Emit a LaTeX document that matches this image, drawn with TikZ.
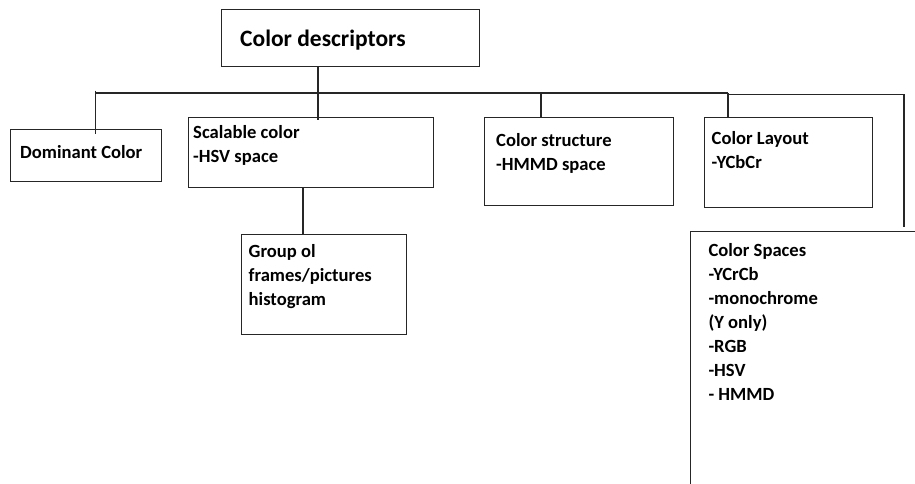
\documentclass[tikz,border=0pt]{standalone}
\usepackage{fontspec}
\setmainfont{Carlito}
\newcommand\boxlines[1]{\begin{tabular}[t]{@{}l@{}}#1\end{tabular}}
\tikzset{
  box/.style={draw=black!85, line width=1.3pt, inner sep=0pt, anchor=north west},
  link/.style={draw=black!85, line width=1.3pt},
  txt/.style={inner sep=0pt, anchor=base west, font=\bfseries\fontsize{18.6}{24}\selectfont},
  ttl/.style={inner sep=0pt, anchor=base west, font=\bfseries\fontsize{23.5}{28}\selectfont}
}
\begin{document}
\begin{tikzpicture}[x=1pt, y=-1pt]
\clip (0,0) rectangle (915,483);
\fill[white] (0,0) rectangle (915,483);

% boxes
\node[box, minimum width=258pt, minimum height=57pt] (title) at (221,8.5) {};
\node[box, minimum width=151pt, minimum height=52pt] (dom) at (9.5,128.5) {};
\node[box, minimum width=245pt, minimum height=70pt] (scal) at (188,116.5) {};
\node[box, minimum width=189pt, minimum height=88pt] (struct) at (484,116.5) {};
\node[box, minimum width=168pt, minimum height=90pt] (layout) at (704,116.5) {};
\node[box, minimum width=165pt, minimum height=100pt] (grp) at (241,234) {};
\node[box, minimum width=250pt, minimum height=280pt] (spaces) at (690,230.5) {};

% texts
\node[ttl] (tt) at (240,46.5) {Color descriptors};
\node[txt] (tdom) at (20,158.3) {Dominant Color};
\node[txt] (tscal) at (193,138) {\boxlines{Scalable color\\-HSV space}};
\node[txt] (tgrp) at (248.5,257) {\boxlines{Group ol\\frames/pictures\\histogram}};
\node[txt] (tstruct) at (496,146) {\boxlines{Color structure\\-HMMD space}};
\node[txt] (tlayout) at (711.5,144.3) {\boxlines{Color Layout\\-YCbCr}};
\node[txt] (tspaces) at (708.3,256) {\boxlines{Color Spaces\\-YCrCb\\-monochrome\\(Y only)\\-RGB\\-HSV\\- HMMD}};

% connector points
\coordinate (bl) at (95.5,93);
\coordinate (bt) at (318,93);
\coordinate (bs) at (541,93);
\coordinate (by) at (728,93);
\coordinate (br) at (904,94.3);
\coordinate (bg) at (303,93);

% connectors
\draw[link] (bt |- title.south) -- ([yshift=-3pt]bt |- scal.north);
\draw[link] (bl) -- (by);
\draw[link] ([yshift=2.5pt]bl) -- ([yshift=-5pt]bl |- dom.north);
\draw[link] (bs) -- (bs |- struct.north);
\draw[link] (by) -- (by |- layout.north);
\draw[link] (by |- br) -- (br) -- ([yshift=3.5pt]br |- spaces.north);
\draw[link] (bg |- scal.south) -- (bg |- grp.north);
\end{tikzpicture}
\end{document}
